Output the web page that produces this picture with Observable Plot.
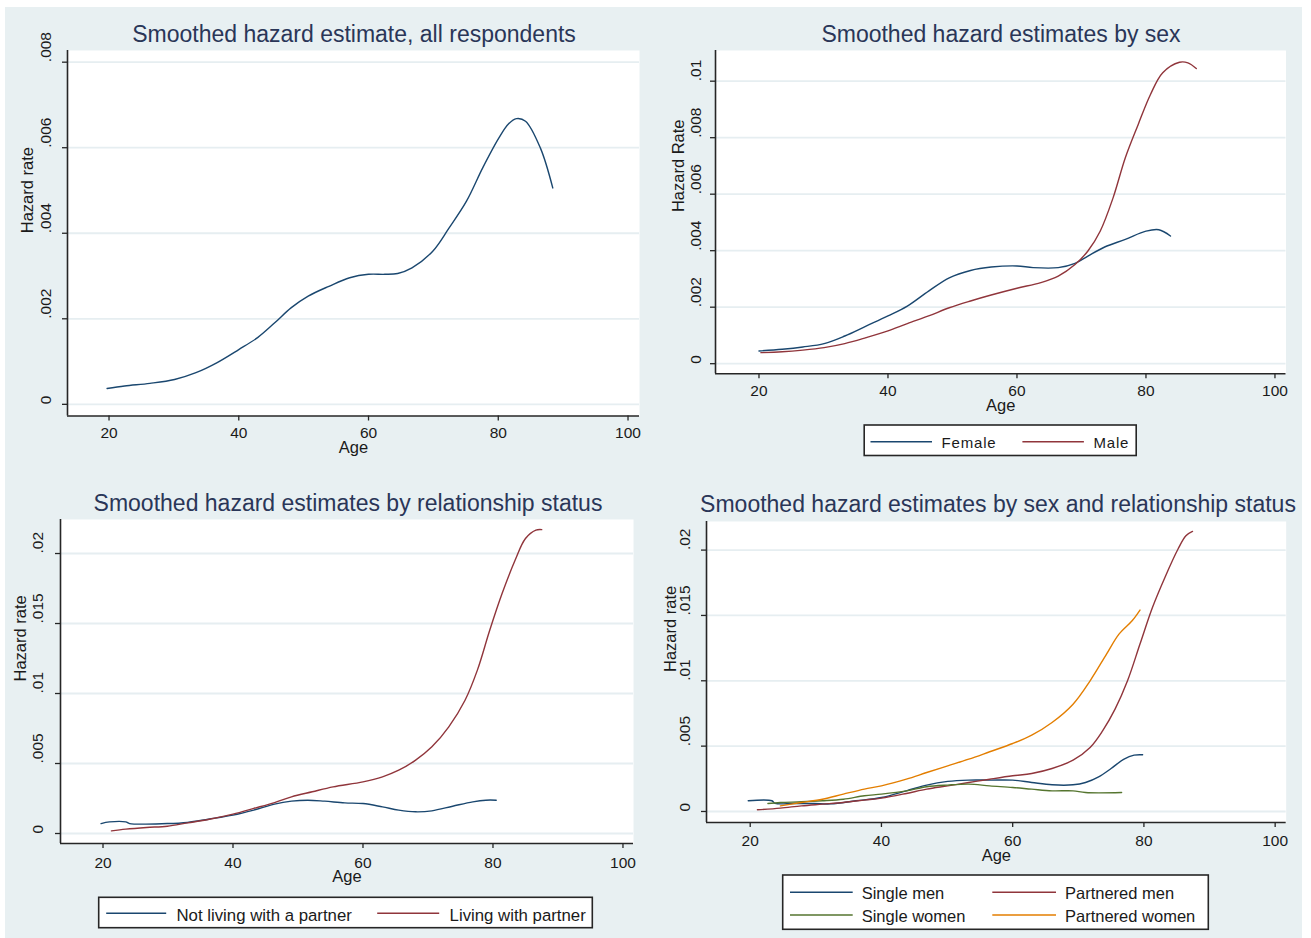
<!DOCTYPE html>
<html>
<head>
<meta charset="utf-8">
<script src="https://cdn.jsdelivr.net/npm/d3@7"></script>
<script src="https://cdn.jsdelivr.net/npm/@observablehq/plot@0.6"></script>
<style>
  body { margin: 0; background: #ffffff; font-family: "Liberation Sans", Arial, sans-serif; }
  #root { position: relative; width: 1311px; height: 938px; overflow: hidden; }
  #bg { position: absolute; left: 5px; top: 7px; width: 1297px; height: 931px; background: #E8F0F2; }
</style>
</head>
<body>
<div id="root"><div id="bg"></div></div>
<script>
// ---------------- DATA ----------------
const xTickValues = [20, 40, 60, 80, 100];

// Panel 1: all respondents
const yTicksAll = [0, 0.002, 0.004, 0.006, 0.008];
const yLabelsAll = ["0", ".002", ".004", ".006", ".008"];
const allAge    = [19.7, 22.4, 26.3, 30.1, 33.4, 36.6, 40, 42.9, 45.5, 48.1, 50.7, 53.9, 57.1, 60, 62.5, 64.5, 66.7, 69.9, 72.4, 75.1, 77.6, 80.1, 81.6, 82.8, 84.2, 86.5, 88.4];
const allHazard = [0.00037, 0.00043, 0.00049, 0.00058, 0.00074, 0.00097, 0.00128, 0.00156, 0.0019, 0.00226, 0.00253, 0.00276, 0.00296, 0.00304, 0.00304, 0.00306, 0.00319, 0.00358, 0.00412, 0.00475, 0.00553, 0.00623, 0.00656, 0.00668, 0.00662, 0.00599, 0.00506];

// Panel 2: by sex
const yTicksSex = [0, 0.002, 0.004, 0.006, 0.008, 0.01];
const yLabelsSex = ["0", ".002", ".004", ".006", ".008", ".01"];
const sexNames = ["Female", "Male"];
const femaleAge    = [20, 23.6, 26.8, 30.1, 33.3, 36.6, 40, 43, 46.3, 49.5, 52.8, 56, 60, 62.5, 66.4, 69, 71, 73.6, 76.8, 80, 82, 83.8];
const femaleHazard = [0.00045, 0.00051, 0.00059, 0.00071, 0.00098, 0.00133, 0.00169, 0.00204, 0.00257, 0.00304, 0.0033, 0.00342, 0.00346, 0.0034, 0.0034, 0.00355, 0.00381, 0.00413, 0.0044, 0.00469, 0.00474, 0.00452];
const maleAge    = [20.3, 23.6, 26.8, 30.1, 33.3, 36.6, 40, 43, 46.3, 49.5, 52.8, 56, 60, 63.7, 66.4, 69, 71, 72.9, 74.9, 76.8, 78.8, 80.7, 82.6, 85.2, 86.5, 87.8];
const maleHazard = [0.00039, 0.00042, 0.00048, 0.00057, 0.00071, 0.00092, 0.00116, 0.00142, 0.00169, 0.00198, 0.00222, 0.00243, 0.00267, 0.00287, 0.0031, 0.00351, 0.00399, 0.00469, 0.00587, 0.00729, 0.00847, 0.00953, 0.0103, 0.01067, 0.01065, 0.01045];

// Panel 3: by relationship status
const yTicksRel = [0, 0.005, 0.01, 0.015, 0.02];
const yLabelsRel = ["0", ".005", ".01", ".015", ".02"];
const relNames = ["Not living with a partner", "Living with partner"];
const notLivingAge    = [19.7, 21, 23.5, 24.1, 29.9, 33, 36.2, 40, 43.2, 46.4, 49, 51.5, 54.1, 57.2, 60, 63, 65.5, 68.1, 70.6, 73.8, 76.9, 78.9, 80.5];
const notLivingHazard = [0.00071, 0.00083, 0.00083, 0.00071, 0.00071, 0.00079, 0.00102, 0.00131, 0.00167, 0.0021, 0.00231, 0.00238, 0.00231, 0.00219, 0.00214, 0.0019, 0.00167, 0.00155, 0.00162, 0.00195, 0.00226, 0.00238, 0.00238];
const livingAge    = [21.3, 23.5, 26.7, 29.9, 33, 36.2, 40, 43.2, 46.4, 49, 52.2, 55.4, 60, 63, 65.5, 68.1, 70.6, 73.2, 75.7, 77.6, 79.5, 81.4, 83.4, 85, 86.6, 87.5];
const livingHazard = [0.00019, 0.00031, 0.00043, 0.00052, 0.00076, 0.001, 0.00138, 0.00179, 0.00221, 0.00262, 0.00298, 0.00333, 0.00369, 0.00405, 0.00452, 0.00524, 0.00619, 0.00762, 0.00952, 0.01167, 0.01452, 0.01714, 0.01952, 0.02107, 0.02167, 0.02171];

// Panel 4: by sex and relationship status
const yTicksSexRel = [0, 0.005, 0.01, 0.015, 0.02];
const yLabelsSexRel = ["0", ".005", ".01", ".015", ".02"];
const sexRelNames = ["Single men", "Partnered men", "Single women", "Partnered women"];
const singleMenAge    = [19.7, 23.3, 23.8, 26.6, 29.7, 32.3, 36.1, 40, 43.8, 46.9, 50.1, 53.3, 56.5, 60, 62.9, 66, 69.2, 71.1, 73.1, 75, 76.9, 78.5, 79.8];
const singleMenHazard = [0.00082, 0.00082, 0.00062, 0.00061, 0.00061, 0.00058, 0.00082, 0.00107, 0.00158, 0.00202, 0.0023, 0.0024, 0.0024, 0.0024, 0.00222, 0.00204, 0.00204, 0.00222, 0.00265, 0.00329, 0.00398, 0.00431, 0.00434];
const partneredMenAge    = [21.1, 24.6, 27.8, 31, 34.2, 37.4, 40, 43.8, 46.9, 50.1, 53.3, 56.5, 60, 62.9, 66, 69.2, 71.8, 73.7, 75.6, 77.5, 79.4, 81.3, 83.2, 85.2, 86.4, 87.4];
const partneredMenHazard = [0.00013, 0.00026, 0.00043, 0.00056, 0.00069, 0.00087, 0.00102, 0.00138, 0.00171, 0.00196, 0.00222, 0.00247, 0.00273, 0.00291, 0.00329, 0.00393, 0.0049, 0.00617, 0.00783, 0.01, 0.01281, 0.01561, 0.01791, 0.02008, 0.0211, 0.02143];
const singleWomenAge    = [22.7, 24.6, 27.8, 31, 34.2, 37.4, 40, 43.8, 46.9, 50.1, 53.3, 56.5, 60, 62.9, 66, 69.2, 71.1, 76.6];
const singleWomenHazard = [0.00061, 0.00069, 0.00074, 0.00082, 0.00094, 0.0012, 0.00133, 0.00158, 0.00189, 0.00202, 0.00209, 0.00196, 0.00184, 0.00171, 0.00158, 0.00158, 0.00145, 0.00145];
const partneredWomenAge    = [24.6, 27.8, 31, 34.2, 37.4, 40, 43.8, 46.9, 50.1, 53.3, 56.5, 60, 62.9, 66, 69.2, 71.8, 74.3, 76.2, 78.2, 79.4];
const partneredWomenHazard = [0.00043, 0.00069, 0.00094, 0.00133, 0.00171, 0.00196, 0.00247, 0.00298, 0.00349, 0.004, 0.00457, 0.0052, 0.00584, 0.00681, 0.00821, 0.01, 0.01204, 0.01357, 0.01459, 0.01541];

// ---------------- STYLE ----------------
const NAVY = "#1a476f", MAROON = "#90353b", FOREST = "#55752f", DKORANGE = "#e37e00";
const GRID = "#E6EEF1", AXIS = "#262626", TEXT = "#1a1a1a", TITLE = "#2a3658";
const FONT = "'Liberation Sans', Arial, sans-serif";

// ---------------- LAYOUT / OPTIONS ----------------
const panels = [
  {
    title: "Smoothed hazard estimate, all respondents", titleX: 354, titleBase: 41.5,
    box: [66.5, 638.5, 49.5, 415], xDomain: [13.60, 101.77], yDomain: [-0.000273, 0.008273],
    yTicks: yTicksAll, yLabels: yLabelsAll, yTitle: "Hazard rate",
    yTickDx: -21, yTitleDx: -39.5, xTickDy: 22, xTitleDy: 37,
    series: [{ name: "All respondents", age: allAge, hazard: allHazard, color: NAVY }],
    legend: null
  },
  {
    title: "Smoothed hazard estimates by sex", titleX: 1001, titleBase: 41.5,
    box: [714.5, 1285, 49.5, 372.7], xDomain: [13.26, 101.71], yDomain: [-0.000354, 0.011086],
    yTicks: yTicksSex, yLabels: yLabelsSex, yTitle: "Hazard Rate",
    yTickDx: -19, yTitleDx: -36.5, xTickDy: 22.5, xTitleDy: 37,
    series: [
      { name: sexNames[0], age: femaleAge, hazard: femaleHazard, color: NAVY },
      { name: sexNames[1], age: maleAge, hazard: maleHazard, color: MAROON }
    ],
    legend: { box: [864.2, 1136.2, 425, 455.5], fontSize: 15, letterSpacing: 0.8,
      items: [
        { x1: 870.5, x2: 932, tx: 941.6, ly: 441.7, ty: 447.7 },
        { x1: 1022.4, x2: 1083.9, tx: 1093.5, ly: 441.7, ty: 447.7 }
      ] }
  },
  {
    title: "Smoothed hazard estimates by relationship status", titleX: 348, titleBase: 510.5,
    box: [59.5, 632.5, 519.3, 843.3], xDomain: [13.46, 101.62], yDomain: [-0.000714, 0.02243],
    yTicks: yTicksRel, yLabels: yLabelsRel, yTitle: "Hazard rate",
    yTickDx: -22, yTitleDx: -40, xTickDy: 24, xTitleDy: 38.5,
    series: [
      { name: relNames[0], age: notLivingAge, hazard: notLivingHazard, color: NAVY },
      { name: relNames[1], age: livingAge, hazard: livingHazard, color: MAROON }
    ],
    legend: { box: [98.7, 592.3, 897.3, 927.7], fontSize: 16.8, letterSpacing: 0,
      items: [
        { x1: 106.2, x2: 166.2, tx: 176.5, ly: 913.3, ty: 920.7 },
        { x1: 377.2, x2: 439.2, tx: 449.6, ly: 913.3, ty: 920.7 }
      ] }
  },
  {
    title: "Smoothed hazard estimates by sex and relationship status", titleX: 998, titleBase: 512,
    box: [706.3, 1286, 520.7, 821.7], xDomain: [13.34, 101.68], yDomain: [-0.000842, 0.022188],
    yTicks: yTicksSexRel, yLabels: yLabelsSexRel, yTitle: "Hazard rate",
    yTickDx: -21.5, yTitleDx: -35.5, xTickDy: 23.5, xTitleDy: 38.5,
    series: [
      { name: sexRelNames[0], age: singleMenAge, hazard: singleMenHazard, color: NAVY },
      { name: sexRelNames[1], age: partneredMenAge, hazard: partneredMenHazard, color: MAROON },
      { name: sexRelNames[2], age: singleWomenAge, hazard: singleWomenHazard, color: FOREST },
      { name: sexRelNames[3], age: partneredWomenAge, hazard: partneredWomenHazard, color: DKORANGE }
    ],
    legend: { box: [782.7, 1208.3, 875, 929.3], fontSize: 16.5, letterSpacing: 0,
      items: [
        { x1: 790, x2: 852.7, tx: 861.7, ly: 892.3, ty: 898.5 },
        { x1: 992.3, x2: 1056, tx: 1065, ly: 892.3, ty: 898.5 },
        { x1: 790, x2: 852.7, tx: 861.7, ly: 915, ty: 921.5 },
        { x1: 992.3, x2: 1056, tx: 1065, ly: 915, ty: 921.5 }
      ] }
  }
];

const root = document.getElementById("root");

function drawPanel(p) {
  const [x0, x1, y0, y1] = p.box;
  const mL = 62, mR = 14, mT = 12, mB = 56;
  const rows = p.series.flatMap(s => s.age.map((a, i) => ({ age: a, hazard: s.hazard[i], series: s.name })));
  const ticksY = p.yTicks.map((v, i) => ({ v, label: p.yLabels[i] }));
  const chart = Plot.plot({
    width: x1 - x0 + mL + mR,
    height: y1 - y0 + mT + mB,
    marginLeft: mL, marginRight: mR, marginTop: mT, marginBottom: mB,
    style: { background: "transparent", overflow: "visible", fontFamily: FONT },
    x: { domain: p.xDomain, axis: null },
    y: { domain: p.yDomain, axis: null },
    color: { domain: p.series.map(s => s.name), range: p.series.map(s => s.color) },
    marks: [
      Plot.frame({ fill: "white", stroke: "none" }),
      Plot.gridY(p.yTicks, { stroke: GRID, strokeOpacity: 1, strokeWidth: 1.8 }),
      Plot.line(rows, { x: "age", y: "hazard", z: "series", stroke: "series", strokeWidth: 1.4, curve: "catmull-rom" }),
      Plot.ruleX([p.xDomain[0]], { stroke: AXIS, strokeWidth: 1.6 }),
      Plot.ruleY([p.yDomain[0]], { stroke: AXIS, strokeWidth: 1.6 }),
      Plot.axisX(xTickValues, { tickSize: 5, tickFormat: () => "", label: null, stroke: AXIS, strokeWidth: 1.3 }),
      Plot.axisY(p.yTicks, { tickSize: 5, tickFormat: () => "", label: null, stroke: AXIS, strokeWidth: 1.3 }),
      Plot.text(xTickValues, { x: d => d, text: d => String(d), frameAnchor: "bottom", dy: p.xTickDy, fontSize: 15.5, fill: TEXT }),
      Plot.text(ticksY, { y: "v", text: "label", frameAnchor: "left", dx: p.yTickDx, rotate: -90, fontSize: 15.5, fill: TEXT }),
      Plot.text([p.yTitle], { text: d => d, frameAnchor: "left", dx: p.yTitleDx, rotate: -90, fontSize: 16.5, fill: TEXT }),
      Plot.text(["Age"], { text: d => d, frameAnchor: "bottom", dy: p.xTitleDy, fontSize: 16.5, fill: TEXT })
    ]
  });
  chart.style.position = "absolute";
  chart.style.left = (x0 - mL) + "px";
  chart.style.top = (y0 - mT) + "px";
  root.appendChild(chart);
}

panels.forEach(drawPanel);

// Titles and legends (overlay)
const overlay = d3.select(root).append("svg")
  .attr("width", 1311).attr("height", 938)
  .style("position", "absolute").style("left", "0px").style("top", "0px")
  .style("pointer-events", "none")
  .attr("font-family", FONT);

panels.forEach(p => {
  overlay.append("text")
    .attr("x", p.titleX).attr("y", p.titleBase)
    .attr("text-anchor", "middle")
    .attr("font-size", 23)
    .attr("fill", TITLE)
    .text(p.title);
  if (p.legend) {
    const L = p.legend;
    const [bx0, bx1, by0, by1] = L.box;
    overlay.append("rect")
      .attr("x", bx0).attr("y", by0).attr("width", bx1 - bx0).attr("height", by1 - by0)
      .attr("fill", "white").attr("stroke", AXIS).attr("stroke-width", 1.6);
    L.items.forEach((it, i) => {
      const s = p.series[i];
      overlay.append("line")
        .attr("x1", it.x1).attr("x2", it.x2).attr("y1", it.ly).attr("y2", it.ly)
        .attr("stroke", s.color).attr("stroke-width", 1.5);
      overlay.append("text")
        .attr("x", it.tx).attr("y", it.ty)
        .attr("font-size", L.fontSize)
        .attr("letter-spacing", L.letterSpacing)
        .attr("fill", TEXT)
        .text(s.name);
    });
  }
});
</script>
</body>
</html>
